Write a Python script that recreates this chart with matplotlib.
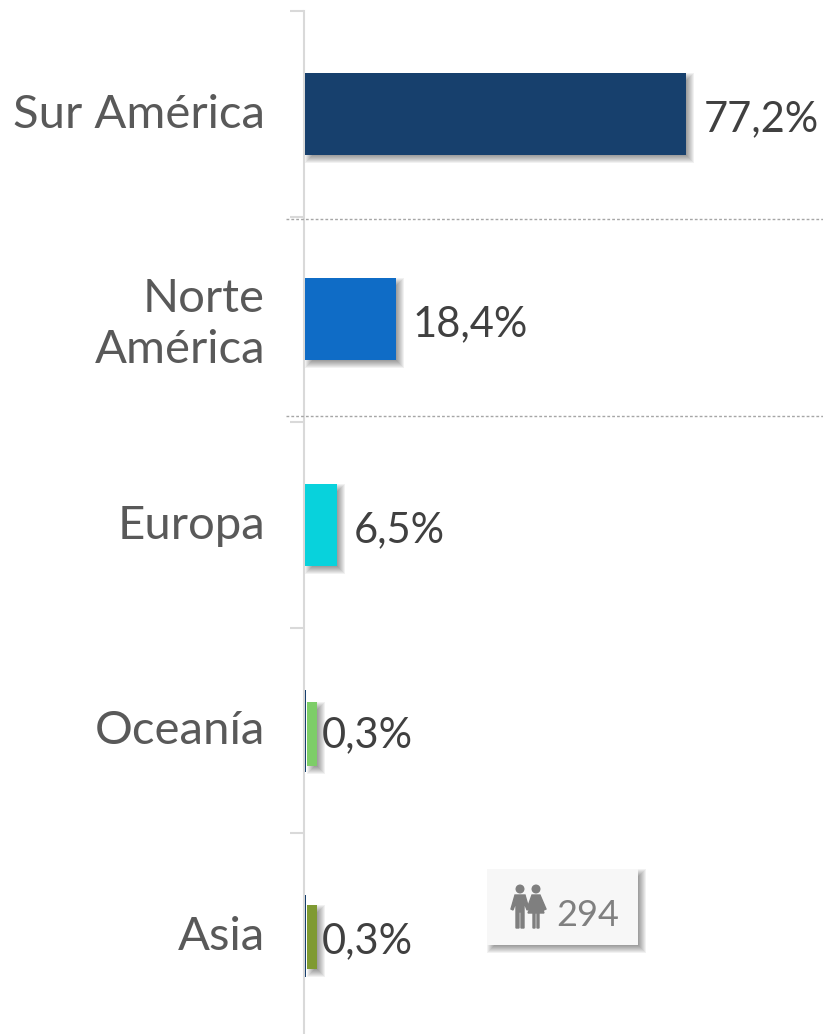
import matplotlib
matplotlib.use("Agg")
import matplotlib.pyplot as plt
from matplotlib.patches import Rectangle, Circle, Polygon
from matplotlib.transforms import ScaledTranslation

plt.rcParams['font.family'] = ['Lato', 'DejaVu Sans']

categories = ["Sur América", "Norte\nAmérica", "Europa", "Oceanía", "Asia"]
values = [77.2, 18.4, 6.5, 0.3, 0.3]
value_labels = ["77,2%", "18,4%", "6,5%", "0,3%", "0,3%"]
colors = ["#17406d", "#0f6cc6", "#08d2dc", "#17406d", "#17406d"]
# small coloured bars sitting next to the thin ones
overlay_values = [0, 0, 0, 2.0, 2.0]
overlay_colors = ["none", "none", "none", "#7dcd68", "#7f9a32"]
people_count = "294"

W, H = 823, 1034
X0, PX_PER_PCT = 305, 4.94
Y0, PX_PER_CAT = 114, 205.5

fig = plt.figure(figsize=(W / 100, H / 100), dpi=100)
ax = fig.add_axes([0, 0, 1, 1])

# px overlay for the non-data stuff
over = fig.add_axes([0, 0, 1, 1], zorder=5)
over.set_xlim(0, W)
over.set_ylim(H, 0)
over.axis("off")


def soft_shadow(a, x, y, w, h, dx=4, dy=4, sx=1.0, sy=1.0, zorder=1):
    # stacked transparent boxes, poor man's blur. sx, sy = data units per pixel
    for ins in (-4, -3, -2, -1, 0, 1, 2, 3):
        a.add_patch(Rectangle((x + (dx + ins) * sx, y + (dy + ins) * sy),
                              w - 2 * ins * sx, h - 2 * ins * sy,
                              facecolor="black", edgecolor="none", alpha=0.055, zorder=zorder))


bar_h = 82 / PX_PER_CAT
small_h = 64 / PX_PER_CAT
pos = list(range(len(categories)))
sx, sy = 1 / PX_PER_PCT, 1 / PX_PER_CAT

for i, v in enumerate(values):
    if v >= 1:
        soft_shadow(ax, 0, i - bar_h / 2, v, bar_h, sx=sx, sy=sy)
ax.barh(pos, values, height=bar_h, color=colors, zorder=3)

# the small bars are not quite centred on the row in the original
small_pos = [p + s * sy for p, s in zip(pos, [0, 0, 0, 3, 1])]
for i, v in enumerate(overlay_values):
    if v > 0:
        soft_shadow(ax, 0.4, small_pos[i] - small_h / 2, v, small_h, sx=sx, sy=sy, zorder=2)
ax.barh(small_pos, overlay_values, left=0.4, height=small_h, color=overlay_colors, zorder=4)

for i, v in enumerate(values):
    ax.annotate(value_labels[i], (v if v >= 1 else 0, i), xytext=(17 / 100 * 72, -5 / 100 * 72),
                textcoords="offset points", va="center", ha="left",
                fontsize=30, color="#404040", zorder=6)

# axis
for s in ("top", "right", "bottom"):
    ax.spines[s].set_visible(False)
ax.spines["left"].set_position(("data", -0.2))
ax.spines["left"].set_color("#d9d9d9")
ax.spines["left"].set_linewidth(1.5)
ax.set_xticks([])
ax.set_yticks(pos)
ax.set_yticklabels(categories, fontsize=34, color="#595959",
                   ha="right", multialignment="right", linespacing=1.26)
ax.tick_params(axis="y", which="major", length=0, pad=39 / 100 * 72)
ax.set_yticks([p - 0.5 for p in pos], minor=True)
ax.tick_params(axis="y", which="minor", length=14 / 100 * 72, width=1.5, color="#d9d9d9")
ax.set_xlim(-X0 / PX_PER_PCT, (W - X0) / PX_PER_PCT)
ax.set_ylim((H - Y0) / PX_PER_CAT, -Y0 / PX_PER_CAT)
ax.spines["left"].set_bounds(-0.5, (H - Y0) / PX_PER_CAT)

# labels sit a little high in the original
up = ScaledTranslation(0, 3 / 100, fig.dpi_scale_trans)
for lab in ax.get_yticklabels():
    lab.set_transform(lab.get_transform() + up)

# dotted separators
for y in (219, 416):
    over.plot([286, W], [y, y], color="#a6a6a6", lw=1, ls=(0, (2, 1.5)))

# box with people icon
soft_shadow(over, 487, 869, 151, 76)
over.add_patch(Rectangle((487, 869), 151, 76, facecolor="#f7f7f7", edgecolor="none", zorder=3))
ic = "#7f7f7f"
over.add_patch(Circle((520, 889), 3.8, color=ic, zorder=4))
over.add_patch(Circle((536, 889), 3.8, color=ic, zorder=4))
over.add_patch(Polygon([(515, 895), (525, 895), (529, 909), (527, 910), (524, 902), (524, 928),
                        (521, 928), (521, 912), (519, 912), (519, 928), (516, 928), (516, 902),
                        (513, 910), (511, 909)], color=ic, zorder=4))
over.add_patch(Polygon([(532, 895), (540, 895), (546, 909), (544, 910), (540, 902), (544, 913),
                        (539, 913), (539, 928), (537, 928), (537, 913), (535, 913), (535, 928),
                        (533, 928), (533, 913), (528, 913), (532, 902), (529, 908), (528, 906)],
                       color=ic, zorder=4))
over.text(556, 915, people_count, fontsize=26, color="#808080",
          va="center", ha="left", zorder=4)

fig.savefig("out.png", dpi=100)
